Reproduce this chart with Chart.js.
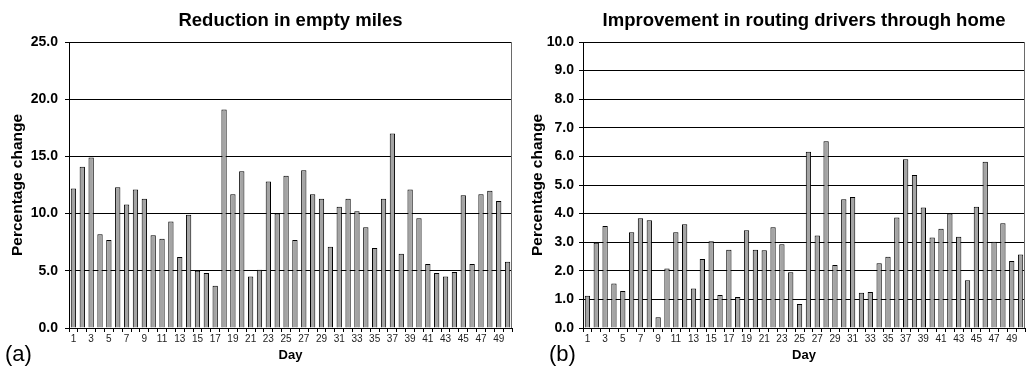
<!DOCTYPE html>
<html>
<head>
<meta charset="utf-8">
<script src="https://cdn.jsdelivr.net/npm/chart.js@4.4.1/dist/chart.umd.min.js"></script>
<style>
  html, body { margin: 0; padding: 0; background: #fff; }
  body { width: 1026px; height: 370px; position: relative; overflow: hidden; font-family: "Liberation Sans", Arial, sans-serif; }
  .cw { position: absolute; top: 0; height: 370px; }
  .tag { position: absolute; top: 343px; font-size: 22px; color: #000; line-height: 1; }
</style>
</head>
<body>
<div class="cw" style="left:0;width:513px;"><canvas id="ca" width="513" height="370"></canvas></div>
<div class="cw" style="left:513px;width:513px;"><canvas id="cb" width="513" height="370"></canvas></div>
<div class="tag" style="left:5px;">(a)</div>
<div class="tag" style="left:549px;">(b)</div>
<script>
const days = ['1','2','3','4','5','6','7','8','9','10','11','12','13','14','15','16','17','18','19','20','21','22','23','24','25','26','27','28','29','30','31','32','33','34','35','36','37','38','39','40','41','42','43','44','45','46','47','48','49','50'];
const emptyMiles = [12.2,14.1,14.9,8.2,7.7,12.3,10.8,12.1,11.3,8.1,
                    7.8,9.3,6.2,9.9,5.0,4.8,3.7,19.1,11.7,13.7,
                    4.5,5.1,12.8,10.0,13.3,7.7,13.8,11.7,11.3,7.1,
                    10.6,11.3,10.2,8.8,7.0,11.3,17.0,6.5,12.1,9.6,
                    5.6,4.8,4.5,4.9,11.6,5.6,11.7,12.0,11.1,5.8];
const routingHome = [1.13,2.98,3.57,1.56,1.29,3.35,3.84,3.77,0.38,2.08,
                     3.35,3.63,1.38,2.41,3.03,1.15,2.74,1.08,3.42,2.74,
                     2.72,3.52,2.93,1.95,0.84,6.16,3.23,6.53,2.20,4.50,
                     4.58,1.23,1.26,2.26,2.49,3.86,5.90,5.35,4.21,3.16,
                     3.47,4.00,3.19,1.67,4.24,5.81,3.02,3.66,2.34,2.57];
const titleA = 'Reduction in empty miles';
const titleB = 'Improvement in routing drivers through home';
const yTitle = 'Percentage change';
const xTitle = 'Day';
const yMaxA = 25, yStepA = 5;
const yMaxB = 10, yStepB = 1;

const FONT = '"Liberation Sans", Arial, sans-serif';

const rightBorder = {
  id: 'rightBorder',
  afterDraw(chart) {
    const a = chart.chartArea, ctx = chart.ctx;
    ctx.save();
    ctx.strokeStyle = '#6a6a6a';
    ctx.lineWidth = 1;
    ctx.beginPath();
    ctx.moveTo(a.right - 0.5, a.top);
    ctx.lineTo(a.right - 0.5, a.bottom);
    ctx.stroke();
    ctx.restore();
  }
};

function makeChart(id, title, values, yMax, yStep, yAxisWidth, yTitlePad, yTickPad) {
  return new Chart(document.getElementById(id), {
    type: 'bar',
    data: {
      labels: days,
      datasets: [{
        data: values,
        backgroundColor: '#a4a4a4',
        borderColor: '#000',
        borderWidth: 1,
        barPercentage: 0.6,
        categoryPercentage: 1.0
      }]
    },
    options: {
      responsive: false,
      animation: false,
      events: [],
      layout: { padding: { left: 0, right: 1, top: 0, bottom: 0 } },
      plugins: {
        legend: { display: false },
        tooltip: { enabled: false },
        title: {
          display: true,
          fullSize: false,
          text: title,
          color: '#000',
          font: { family: FONT, size: 18.5, weight: 'bold', lineHeight: 1.2 },
          padding: { top: 10, bottom: 9.8 }
        }
      },
      scales: {
        x: {
          offset: true,
          grid: { display: true, drawOnChartArea: false, drawTicks: true, tickLength: 4, offset: true, color: '#000' },
          border: { display: true, color: '#000', width: 1 },
          ticks: {
            autoSkip: false, maxRotation: 0, minRotation: 0, padding: 1,
            color: '#222',
            font: { family: FONT, size: 10 },
            callback: function (v, i) { return (i % 2 === 0) ? days[i] : ''; }
          },
          title: {
            display: true, text: xTitle, color: '#000',
            font: { family: FONT, size: 13, weight: 'bold', lineHeight: 1.2 },
            padding: { top: 0, bottom: 7 }
          },
          afterFit: function (s) { s.height = 42; }
        },
        y: {
          min: 0, max: yMax,
          grid: { color: '#000', lineWidth: 1, drawTicks: true, tickLength: 4 },
          border: { display: true, color: '#000', width: 1 },
          ticks: {
            stepSize: yStep, padding: yTickPad, color: '#000',
            font: { family: FONT, size: 14, weight: 'bold' },
            callback: function (v) { return Number(v).toFixed(1); }
          },
          title: {
            display: true, text: yTitle, color: '#000',
            font: { family: FONT, size: 15.5, weight: 'bold', lineHeight: 1.2 },
            padding: { top: yTitlePad, bottom: 0 }
          },
          afterFit: function (s) { s.width = yAxisWidth; }
        }
      }
    },
    plugins: [rightBorder]
  });
}

makeChart('ca', titleA, emptyMiles, yMaxA, yStepA, 69, 8, 7);
makeChart('cb', titleB, routingHome, yMaxB, yStepB, 70, 15, 5);
</script>
</body>
</html>
